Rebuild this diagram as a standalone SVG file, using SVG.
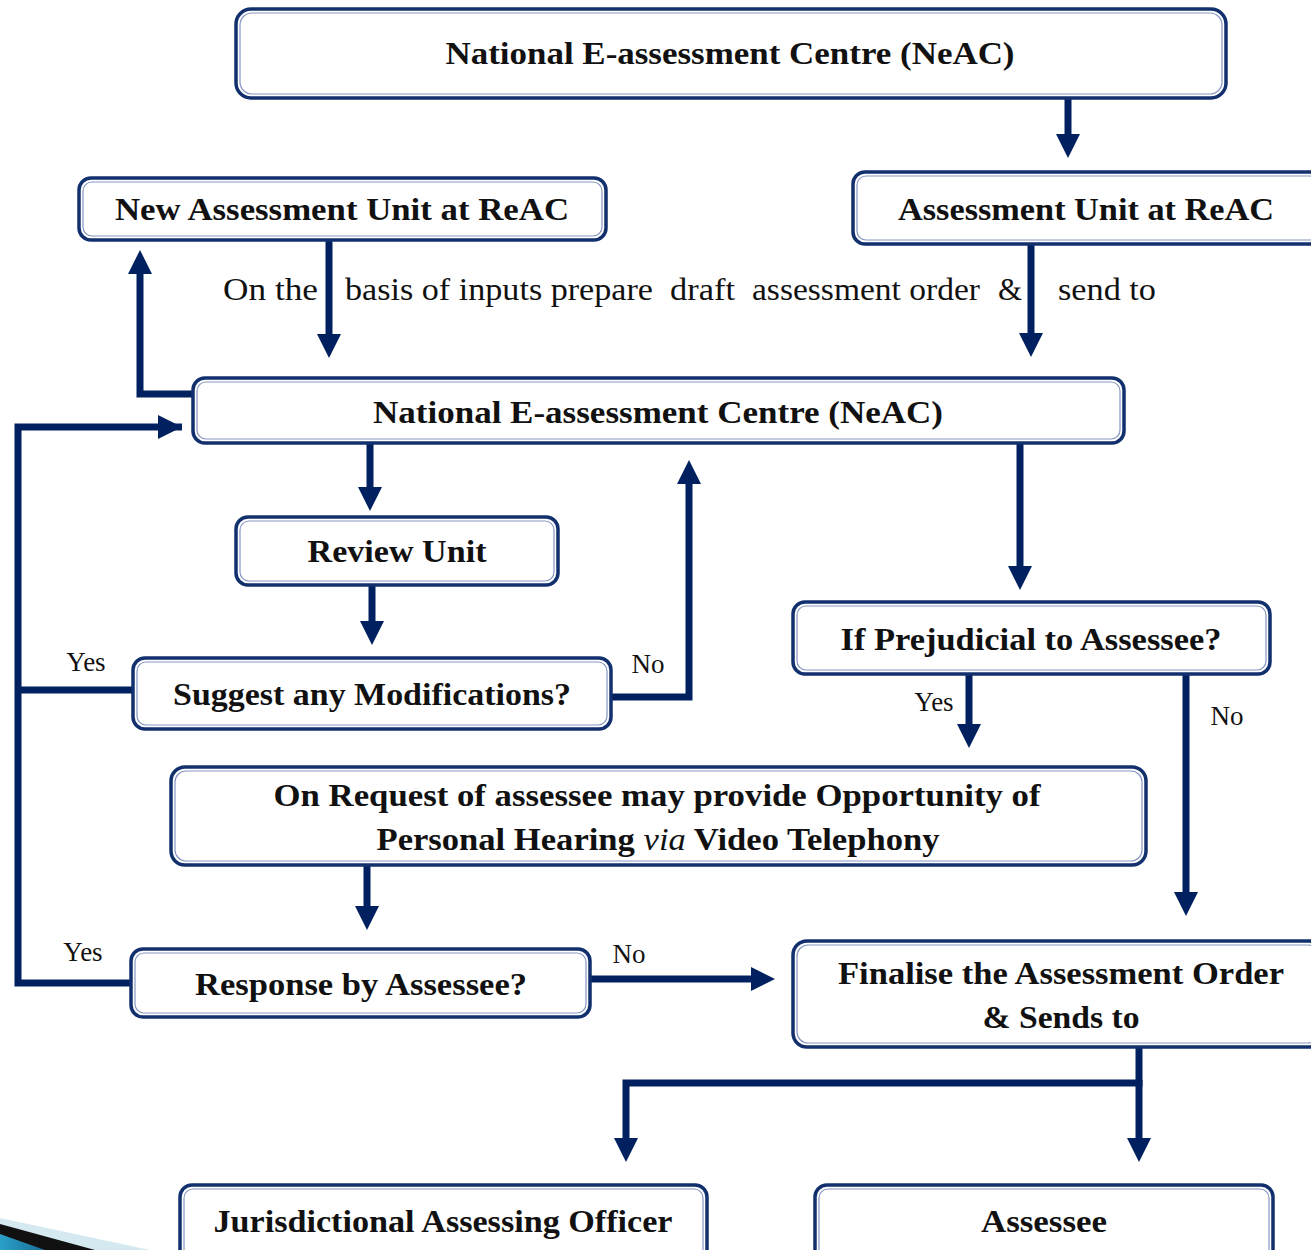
<svg xmlns="http://www.w3.org/2000/svg" width="1311" height="1250" viewBox="0 0 1311 1250">
<defs>
<style>
.bo{fill:#fff;stroke:#13306e;stroke-width:3.5}
.bi{fill:none;stroke:#8597c2;stroke-width:1.2}
.t{font-family:"Liberation Serif","Times New Roman",serif;font-weight:bold;font-size:32px;fill:#111;text-anchor:middle}
.l{font-family:"Liberation Serif","Times New Roman",serif;font-size:27px;fill:#111;text-anchor:middle}
.s{font-family:"Liberation Serif","Times New Roman",serif;font-size:31px;fill:#111}
.c{fill:none;stroke:#002060;stroke-width:7;stroke-linejoin:miter}
.h{fill:#002060}
</style>
<linearGradient id="g1" x1="0" y1="0" x2="1" y2="0">
<stop offset="0" stop-color="#2aa0c8"/>
<stop offset="1" stop-color="#1a6e96"/>
</linearGradient>
</defs>

<g id="decor">
<polygon points="0,1218 150,1250 0,1250" fill="#d5e9f1"/>
<polygon points="0,1224 95,1250 0,1250" fill="#111"/>
<polygon points="0,1234 45,1250 0,1250" fill="url(#g1)"/>
</g>

<g id="connectors">
<line class="c" x1="1068" y1="98" x2="1068" y2="136"/><polygon class="h" points="1056,134 1080,134 1068,158"/>
<line class="c" x1="329" y1="240" x2="329" y2="336"/><polygon class="h" points="317,334 341,334 329,358"/>
<line class="c" x1="1031" y1="244" x2="1031" y2="335"/><polygon class="h" points="1019,333 1043,333 1031,357"/>
<polyline class="c" points="193,394 140,394 140,272"/><polygon class="h" points="128,274 152,274 140,250"/>
<polyline class="c" points="182,427 18,427 18,983 131,983"/><polygon class="h" points="158,415 158,439 182,427"/>
<line class="c" x1="18" y1="690" x2="133" y2="690"/>
<line class="c" x1="370" y1="443" x2="370" y2="489"/><polygon class="h" points="358,487 382,487 370,511"/>
<line class="c" x1="372" y1="585" x2="372" y2="623"/><polygon class="h" points="360,621 384,621 372,645"/>
<polyline class="c" points="611,697 689,697 689,482"/><polygon class="h" points="677,484 701,484 689,460"/>
<line class="c" x1="1020" y1="443" x2="1020" y2="568"/><polygon class="h" points="1008,566 1032,566 1020,590"/>
<line class="c" x1="969" y1="674" x2="969" y2="726"/><polygon class="h" points="957,724 981,724 969,748"/>
<line class="c" x1="1186" y1="674" x2="1186" y2="894"/><polygon class="h" points="1174,892 1198,892 1186,916"/>
<line class="c" x1="367" y1="865" x2="367" y2="908"/><polygon class="h" points="355,906 379,906 367,930"/>
<line class="c" x1="590" y1="979" x2="753" y2="979"/><polygon class="h" points="751,967 751,991 775,979"/>
<polyline class="c" points="1139,1047 1139,1083 626,1083 626,1140"/><polygon class="h" points="614,1138 638,1138 626,1162"/>
<line class="c" x1="1139" y1="1080" x2="1139" y2="1140"/><polygon class="h" points="1127,1138 1151,1138 1139,1162"/>
</g>

<g id="labels">
<text class="s" x="223" y="300" textLength="95" lengthAdjust="spacingAndGlyphs">On the</text>
<text class="s" x="345" y="300" textLength="308" lengthAdjust="spacingAndGlyphs">basis of inputs prepare</text>
<text class="s" x="670" y="300" textLength="65" lengthAdjust="spacingAndGlyphs">draft</text>
<text class="s" x="752" y="300" textLength="228" lengthAdjust="spacingAndGlyphs">assessment order</text>
<text class="s" x="998" y="300" textLength="24" lengthAdjust="spacingAndGlyphs">&amp;</text>
<text class="s" x="1058" y="300" textLength="98" lengthAdjust="spacingAndGlyphs">send to</text>
<text class="l" x="86" y="671">Yes</text>
<text class="l" x="648" y="673">No</text>
<text class="l" x="934" y="711">Yes</text>
<text class="l" x="1227" y="725">No</text>
<text class="l" x="83" y="961">Yes</text>
<text class="l" x="629" y="963">No</text>
</g>

<g id="n-neac-top">
<rect class="bo" x="236" y="9" width="990" height="89" rx="15"/>
<rect class="bi" x="240" y="13" width="982" height="81" rx="12"/>
<text class="t" x="730" y="64" textLength="569" lengthAdjust="spacingAndGlyphs">National E-assessment Centre (NeAC)</text>
</g>

<g id="n-new-unit">
<rect class="bo" x="79" y="178" width="527" height="62" rx="12"/>
<rect class="bi" x="83" y="182" width="519" height="54" rx="9"/>
<text class="t" x="342" y="220" textLength="454" lengthAdjust="spacingAndGlyphs">New Assessment Unit at ReAC</text>
</g>

<g id="n-unit">
<rect class="bo" x="853" y="172" width="470" height="72" rx="12"/>
<rect class="bi" x="857" y="176" width="462" height="64" rx="9"/>
<text class="t" x="1086" y="220" textLength="376" lengthAdjust="spacingAndGlyphs">Assessment Unit at ReAC</text>
</g>

<g id="n-neac-mid">
<rect class="bo" x="193" y="378" width="931" height="65" rx="12"/>
<rect class="bi" x="197" y="382" width="923" height="57" rx="9"/>
<text class="t" x="658" y="423" textLength="570" lengthAdjust="spacingAndGlyphs">National E-assessment Centre (NeAC)</text>
</g>

<g id="n-review">
<rect class="bo" x="236" y="517" width="322" height="68" rx="12"/>
<rect class="bi" x="240" y="521" width="314" height="60" rx="9"/>
<text class="t" x="397" y="562" textLength="179" lengthAdjust="spacingAndGlyphs">Review Unit</text>
</g>

<g id="n-suggest">
<rect class="bo" x="133" y="658" width="478" height="71" rx="12"/>
<rect class="bi" x="137" y="662" width="470" height="63" rx="9"/>
<text class="t" x="372" y="705" textLength="398" lengthAdjust="spacingAndGlyphs">Suggest any Modifications?</text>
</g>

<g id="n-prejudicial">
<rect class="bo" x="793" y="602" width="477" height="72" rx="12"/>
<rect class="bi" x="797" y="606" width="469" height="64" rx="9"/>
<text class="t" x="1031" y="650" textLength="381" lengthAdjust="spacingAndGlyphs">If Prejudicial to Assessee?</text>
</g>

<g id="n-request">
<rect class="bo" x="171" y="767" width="975" height="98" rx="14"/>
<rect class="bi" x="175" y="771" width="967" height="90" rx="11"/>
<text class="t" x="657" y="806" textLength="767" lengthAdjust="spacingAndGlyphs">On Request of assessee may provide Opportunity of</text>
<text class="t" x="658" y="850" textLength="563" lengthAdjust="spacingAndGlyphs">Personal Hearing <tspan font-style="italic" font-weight="normal">via</tspan> Video Telephony</text>
</g>

<g id="n-response">
<rect class="bo" x="131" y="949" width="459" height="68" rx="12"/>
<rect class="bi" x="135" y="953" width="451" height="60" rx="9"/>
<text class="t" x="361" y="995" textLength="332" lengthAdjust="spacingAndGlyphs">Response by Assessee?</text>
</g>

<g id="n-finalise">
<rect class="bo" x="793" y="941" width="530" height="106" rx="14"/>
<rect class="bi" x="797" y="945" width="522" height="98" rx="11"/>
<text class="t" x="1061" y="984" textLength="446" lengthAdjust="spacingAndGlyphs">Finalise the Assessment Order</text>
<text class="t" x="1061" y="1028" textLength="157" lengthAdjust="spacingAndGlyphs">&amp; Sends to</text>
</g>

<g id="n-jao">
<rect class="bo" x="180" y="1185" width="527" height="80" rx="12"/>
<rect class="bi" x="184" y="1189" width="519" height="72" rx="9"/>
<text class="t" x="443" y="1232" textLength="459" lengthAdjust="spacingAndGlyphs">Jurisdictional Assessing Officer</text>
</g>

<g id="n-assessee">
<rect class="bo" x="815" y="1185" width="458" height="80" rx="12"/>
<rect class="bi" x="819" y="1189" width="450" height="72" rx="9"/>
<text class="t" x="1044" y="1232" textLength="126" lengthAdjust="spacingAndGlyphs">Assessee</text>
</g>
</svg>
